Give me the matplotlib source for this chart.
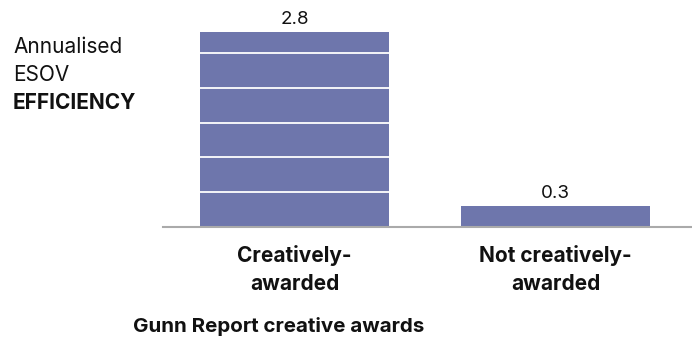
import matplotlib.pyplot as plt

categories = ['Creatively-\nawarded', 'Not creatively-\nawarded']
values = [2.8, 0.3]
value_labels = ['2.8', '0.3']

plt.rcParams['font.family'] = ['Inter', 'DejaVu Sans']

fig = plt.figure(figsize=(6.92, 3.37), dpi=100)
ax = fig.add_axes([163 / 692, 1 - 227 / 337, 529 / 692, 209 / 337])

bars = ax.bar(range(len(values)), values, width=0.724, color='#6e76ac', zorder=1)

# white bands across the bars
ax.set_yticks([0.5, 1.0, 1.5, 2.0, 2.5])
ax.grid(axis='y', color='white', linewidth=1.3, zorder=2)
ax.set_axisbelow(False)

ax.set_ylim(0, 3.0)
ax.set_xlim(-0.504, 1.523)

for i, v in enumerate(values):
    ax.text(i, v + 0.06, value_labels[i], ha='center', va='bottom', fontsize=13.5, color='#111111')

ax.set_xticks(range(len(values)))
ax.set_xticklabels(categories, fontsize=15, fontweight='bold', linespacing=1.5, color='#111111')
ax.tick_params(axis='x', length=0, pad=13)
ax.tick_params(axis='y', length=0, labelleft=False)

for s in ['top', 'right', 'left']:
    ax.spines[s].set_visible(False)
ax.spines['bottom'].set_color('#aaaaaa')
ax.spines['bottom'].set_linewidth(1.5)

fig.text(13 / 692, 1 - 47 / 337, 'Annualised', fontsize=15, va='center', ha='left', color='#111111')
fig.text(13 / 692, 1 - 75 / 337, 'ESOV', fontsize=15, va='center', ha='left', color='#111111')
fig.text(13 / 692, 1 - 103 / 337, 'EFFICIENCY', fontsize=15, fontweight='bold', va='center', ha='left', color='#111111')

fig.text(133 / 692, 1 - 326 / 337, 'Gunn Report creative awards', fontsize=14.8, fontweight='bold',
         va='center', ha='left', color='#111111')

fig.savefig('out.png', dpi=100)
